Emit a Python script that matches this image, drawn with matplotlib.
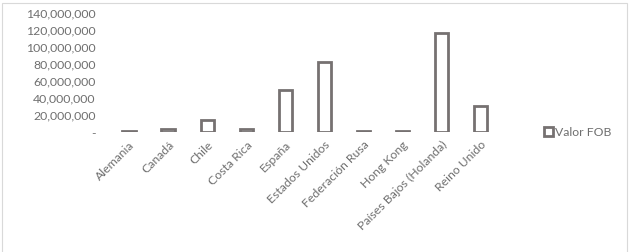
import numpy as np
import matplotlib.pyplot as plt
from matplotlib.patches import Rectangle
from matplotlib.ticker import FuncFormatter

paises = ['Alemania', 'Canadá', 'Chile', 'Costa Rica', 'España', 'Estados Unidos',
          'Federación Rusa', 'Hong Kong', 'Países Bajos (Holanda)', 'Reino Unido']
valor_fob = [1.2e6, 3.5e6, 14.5e6, 4.5e6, 49.5e6, 82.5e6, 1.4e6, 1.6e6, 116e6, 31e6]
y_ticks = [0, 20e6, 40e6, 60e6, 80e6, 100e6, 120e6, 140e6]

gris = '#767171'
texto = '#6f6f6f'
plt.rcParams['font.family'] = ['Lato', 'DejaVu Sans']

fig = plt.figure(figsize=(6.32, 2.52), dpi=100)
ax = fig.add_axes([0.1733, 0.4745, 0.6178, 0.475])

x = np.arange(len(paises))
ax.bar(x, valor_fob, width=0.34, facecolor='white', edgecolor=gris,
       linewidth=2.0, label='Valor FOB')

ax.set_xlim(-0.5, len(paises) - 0.5)
ax.set_ylim(0, 140e6)
ax.set_yticks(y_ticks)
ax.yaxis.set_major_formatter(FuncFormatter(lambda v, p: '-' if v == 0 else f'{v:,.0f}'))
ax.set_xticks(x)
ax.set_xticklabels(paises, rotation=45, ha='right', rotation_mode='anchor')
ax.tick_params(length=0, labelsize=8.8, colors=texto, pad=10)
ax.tick_params(axis='x', pad=5)
for s in ax.spines.values():
    s.set_visible(False)

leg = ax.legend(loc='center left', bbox_to_anchor=(1.085, 0.0), frameon=False,
                fontsize=8.8, handlelength=0.7, handleheight=0.7, handletextpad=0.2,
                labelcolor=texto)

# borde del grafico
fig.patches.append(Rectangle((2 / 632, -0.01), 625 / 632, 1 - 3 / 252 + 0.01,
                             transform=fig.transFigure, fill=False,
                             edgecolor='#d9d9d9', linewidth=0.8))

fig.savefig('out.png', dpi=100)
